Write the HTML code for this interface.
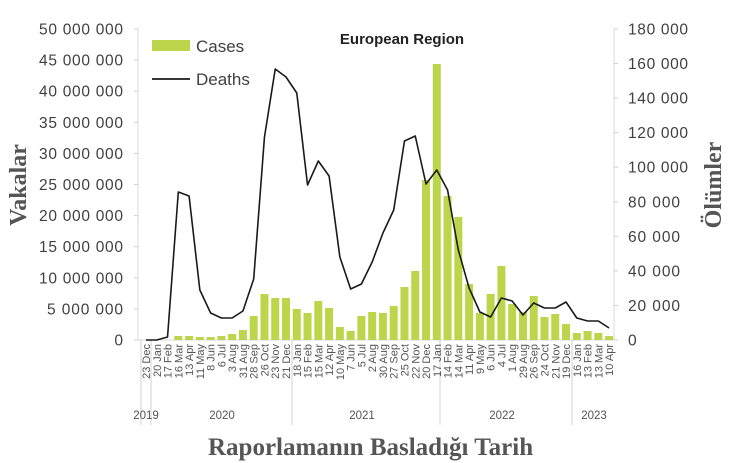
<!DOCTYPE html>
<html><head><meta charset="utf-8"><style>
html,body{margin:0;padding:0;background:#fff;width:737px;height:463px;overflow:hidden}
svg{display:block}
text{font-family:"Liberation Sans",sans-serif}
</style></head><body>
<svg id="s" width="737" height="463" xmlns="http://www.w3.org/2000/svg">
<line x1="138" y1="340" x2="614" y2="340" stroke="#d9d9d9" stroke-width="1"/>
<line x1="138" y1="29" x2="138" y2="340" stroke="#d9d9d9"/>
<line x1="614" y1="29" x2="614" y2="340" stroke="#d9d9d9"/>
<g id="tk" stroke="#d0d0d0"></g>
<g stroke="#d0d0d0">
<line x1="141" y1="340" x2="141" y2="425"/><line x1="151" y1="340" x2="151" y2="425"/>
<line x1="292" y1="340" x2="292" y2="425"/><line x1="440" y1="340" x2="440" y2="425"/>
<line x1="572" y1="340" x2="572" y2="425"/>
</g>
<g id="bars" fill="#bcd54a"></g>
<polyline id="ln" fill="none" stroke="#1a1a1a" stroke-width="1.6" stroke-linejoin="round"/>
<g id="lt" font-size="15.5" fill="#404040" text-anchor="end"></g>
<g id="rt" font-size="15.5" fill="#404040"></g>
<g id="xl" font-size="11" fill="#555"></g>
<g font-size="11.5" fill="#555" text-anchor="middle">
<text x="146" y="419">2019</text><text x="222" y="419">2020</text><text x="362" y="419">2021</text><text x="502" y="419">2022</text><text x="594" y="419">2023</text>
</g>
<text x="402" y="44" font-size="15" font-weight="bold" fill="#222" text-anchor="middle">European Region</text>
<rect x="152" y="40" width="38" height="11" fill="#bcd54a"/>
<text x="196" y="52" font-size="17" fill="#404040">Cases</text>
<line x1="152" y1="79" x2="190" y2="79" stroke="#1a1a1a" stroke-width="1.8"/>
<text x="196" y="85" font-size="17" fill="#404040">Deaths</text>
<text transform="translate(26,185) rotate(-90)" font-size="24" font-weight="bold" fill="#555" text-anchor="middle" style="font-family:'Liberation Serif',serif">Vakalar</text>
<text transform="translate(721,185) rotate(-90)" font-size="24" font-weight="bold" fill="#555" text-anchor="middle" style="font-family:'Liberation Serif',serif">Ölümler</text>
<text x="208" y="455" font-size="25" font-weight="bold" fill="#555" style="font-family:'Liberation Serif',serif">Raporlamanın Basladığı Tarih</text>
</svg>
<script>
var NS="http://www.w3.org/2000/svg";
function el(p,t,a,txt){var e=document.createElementNS(NS,t);for(var k in a)e.setAttribute(k,a[k]);if(txt)e.textContent=txt;document.getElementById(p).appendChild(e);return e;}
var X=function(i){return 146+i*10.77;};
var bars=[336,336,337,337,336,334,330,316,294,298,298,309,313,301,308,327,331,316,312,313,306,287,271,180,64,196,217,284,313,294,266,304,312,296,317,314,324,333,331,333,336];
bars.forEach(function(y,j){var i=j+3;el("bars","rect",{x:X(i)-4,y:y,width:8,height:340-y});});
var ly=[340,340,337,192,196,290,313,318,318,311,279,137,69,77,93,185,161,176,257,289,284,262,233,210,141,136,184,170,190,250,288,312,317,298,301,315,303,308,308,302,318,321,321,328];
document.getElementById("ln").setAttribute("points",ly.map(function(y,i){return X(i)+","+y;}).join(" "));
var L=["0","5 000 000","10 000 000","15 000 000","20 000 000","25 000 000","30 000 000","35 000 000","40 000 000","45 000 000","50 000 000"];
L.forEach(function(t,i){var y=340-i*31.1;var a={x:123,y:y+5.5};if(t.length>9)a.textLength=84;else if(t.length>1)a.textLength=76;el("lt","text",a,t);el("tk","line",{x1:134,x2:138,y1:y,y2:y});});
var R=["0","20 000","40 000","60 000","80 000","100 000","120 000","140 000","160 000","180 000"];
R.forEach(function(t,i){var y=340-i*34.56;var a={x:628,y:y+5.5};if(t.length==7)a.textLength=60;else if(t.length==6)a.textLength=52;el("rt","text",a,t);el("tk","line",{x1:614,x2:618,y1:y,y2:y});});
var D=["23 Dec","20 Jan","17 Feb","16 Mar","13 Apr","11 May","8 Jun","6 Jul","3 Aug","31 Aug","28 Sep","26 Oct","23 Nov","21 Dec","18 Jan","15 Feb","15 Mar","12 Apr","10 May","7 Jun","5 Jul","2 Aug","30 Aug","27 Sep","25 Oct","22 Nov","20 Dec","17 Jan","14 Feb","14 Mar","11 Apr","9 May","6 Jun","4 Jul","1 Aug","29 Aug","26 Sep","24 Oct","21 Nov","19 Dec","16 Jan","13 Feb","13 Mar","10 Apr"];
D.forEach(function(t,i){el("xl","text",{transform:"translate("+(X(i)+4)+",344) rotate(-90)","text-anchor":"end"},t);});
</script>
</body></html>
